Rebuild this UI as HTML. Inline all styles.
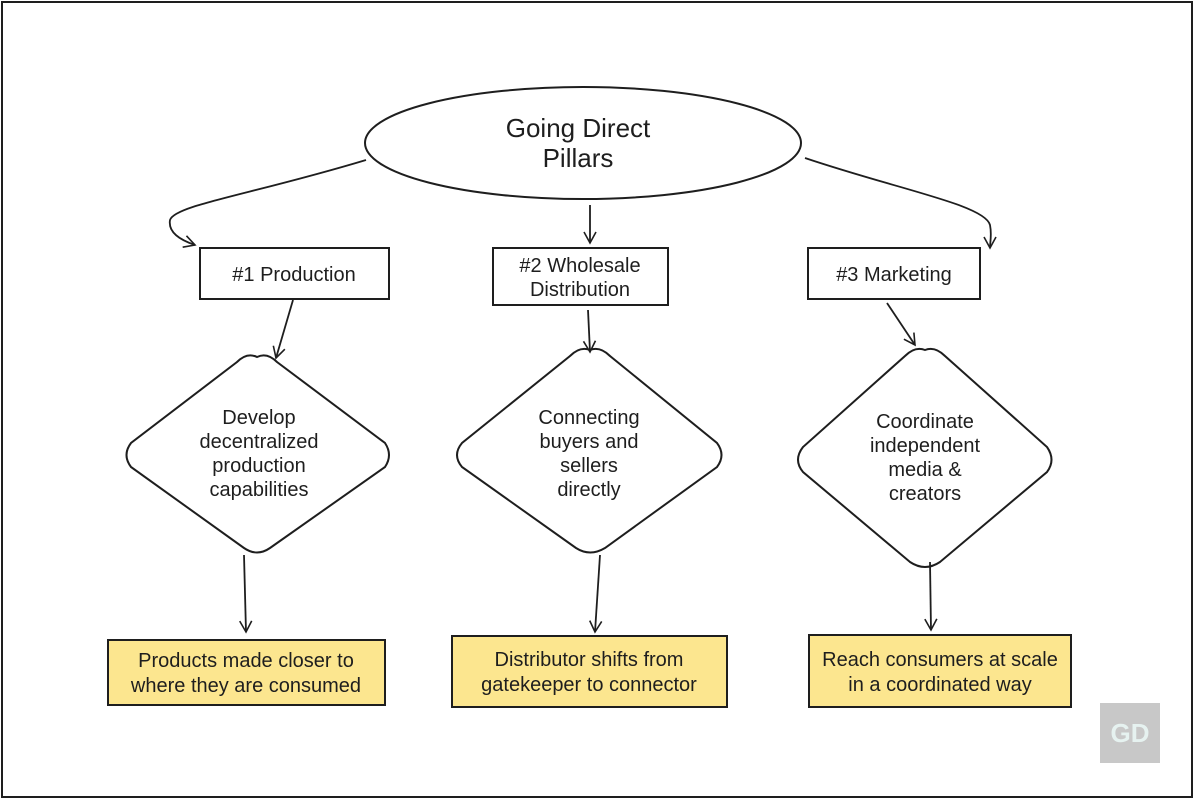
<!DOCTYPE html>
<html><head><style>
body{margin:0;background:#fff}
svg{display:block}
text{font-family:"Liberation Sans",sans-serif;fill:#1e1e1e;text-anchor:middle}
</style></head><body>
<svg width="1200" height="800" viewBox="0 0 1200 800">
<defs><marker id="a" markerWidth="14" markerHeight="14" refX="12" refY="7" orient="auto" markerUnits="userSpaceOnUse"><path d="M1,1 L12,7 L1,13" fill="none" stroke="#1e1e1e" stroke-width="1.6"/></marker></defs>
<rect x="2" y="2" width="1190" height="795" fill="#fff" stroke="#1e1e1e" stroke-width="2"/>
<g fill="none" stroke="#1e1e1e" stroke-width="2">
<ellipse cx="583" cy="143" rx="218" ry="56"/>
<rect x="200" y="248" width="189" height="51"/>
<rect x="493" y="248" width="175" height="57"/>
<rect x="808" y="248" width="172" height="51"/>
<path d="M257,357 Q267,352 277,362 L385,443 Q393,455 385,467 L270,548 Q257,557 244,548 L131,467 Q122,455 131,443 L237,362 Q247,352 257,357Z"/>
<path d="M590,350 Q600,346 610,356 L717,443 Q726,455 717,467 L605,548 Q590,557 576,548 L462,467 Q452,455 462,443 L570,356 Q580,346 590,350Z"/>
<path d="M925,350 Q935,346 945,356 L1047,447 Q1056,460 1047,472 L940,562 Q925,572 910,562 L803,472 Q793,460 803,447 L905,356 Q915,346 925,350Z"/>
<g marker-end="url(#a)" stroke-width="1.8">
<path d="M366,160 C250,195 175,205 170,220 C168,232 180,240 195,245"/>
<path d="M590,205 L590,243"/>
<path d="M805,158 C900,190 985,205 990,225 C992,235 990,242 990,248"/>
<path d="M293,300 L276,358"/>
<path d="M588,310 L590,352"/>
<path d="M887,303 L915,345"/>
<path d="M244,555 L246,632"/>
<path d="M600,555 L595,632"/>
<path d="M930,562 L931,630"/>
</g>
</g>
<g fill="#fce68f" stroke="#1e1e1e" stroke-width="2">
<rect x="108" y="640" width="277" height="65"/>
<rect x="452" y="636" width="275" height="71"/>
<rect x="809" y="635" width="262" height="72"/>
</g>
<rect x="1100" y="703" width="60" height="60" fill="#c8c8c8"/>
<text x="1130" y="742" style="fill:#e6f2f0;font-size:26px;font-weight:bold">GD</text>
<g font-size="26"><text x="578" y="137">Going Direct</text><text x="578" y="167">Pillars</text></g>
<g font-size="20">
<text x="294" y="281">#1 Production</text>
<text x="580" y="272">#2 Wholesale</text><text x="580" y="296">Distribution</text>
<text x="894" y="281">#3 Marketing</text>
<text x="259" y="424">Develop</text><text x="259" y="448">decentralized</text><text x="259" y="472">production</text><text x="259" y="496">capabilities</text>
<text x="589" y="424">Connecting</text><text x="589" y="448">buyers and</text><text x="589" y="472">sellers</text><text x="589" y="496">directly</text>
<text x="925" y="428">Coordinate</text><text x="925" y="452">independent</text><text x="925" y="476">media &amp;</text><text x="925" y="500">creators</text>
<text x="246" y="667">Products made closer to</text><text x="246" y="692">where they are consumed</text>
<text x="589" y="666">Distributor shifts from</text><text x="589" y="691">gatekeeper to connector</text>
<text x="940" y="666">Reach consumers at scale</text><text x="940" y="691">in a coordinated way</text>
</g>
</svg>
</body></html>
